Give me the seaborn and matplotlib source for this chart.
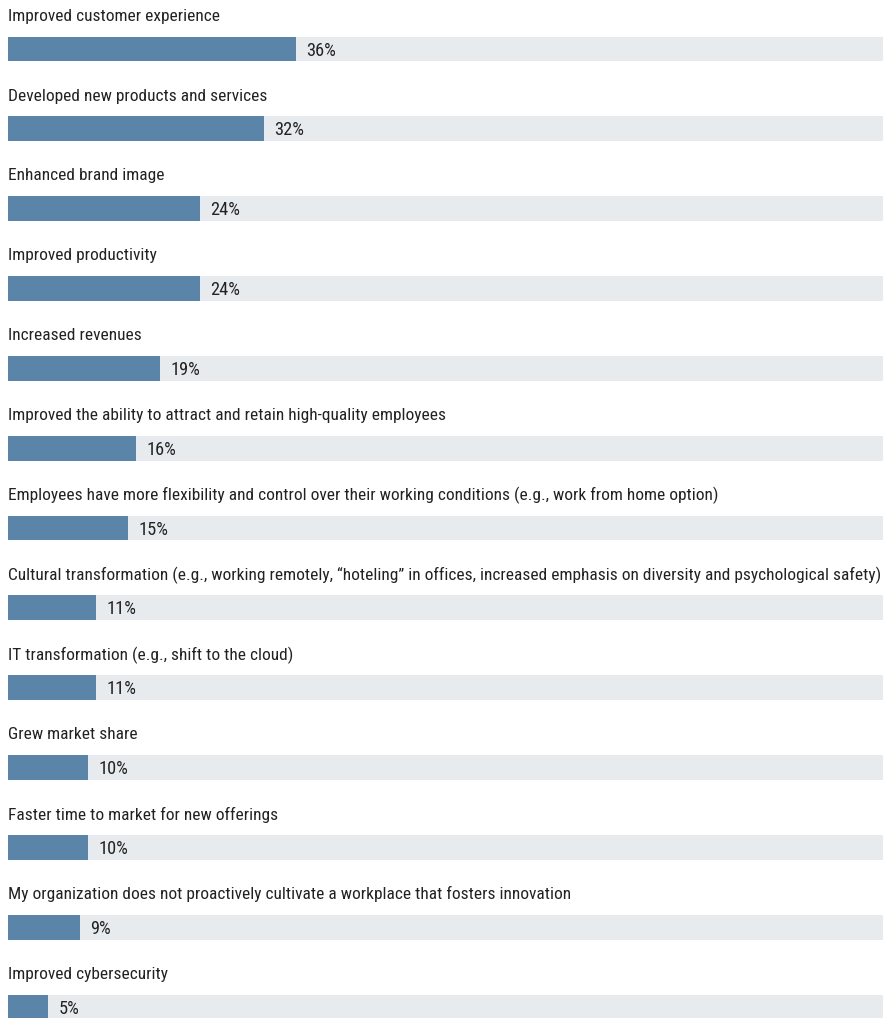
import matplotlib
matplotlib.use("Agg")
import matplotlib.pyplot as plt
from matplotlib import font_manager
import seaborn as sns
import pandas as pd

categories = [
    "Improved customer experience",
    "Developed new products and services",
    "Enhanced brand image",
    "Improved productivity",
    "Increased revenues",
    "Improved the ability to attract and retain high-quality employees",
    "Employees have more flexibility and control over their working conditions (e.g., work from home option)",
    "Cultural transformation (e.g., working remotely, \u201choteling\u201d in offices, increased emphasis on diversity and psychological safety)",
    "IT transformation (e.g., shift to the cloud)",
    "Grew market share",
    "Faster time to market for new offerings",
    "My organization does not proactively cultivate a workplace that fosters innovation",
    "Improved cybersecurity",
]
values = [36, 32, 24, 24, 19, 16, 15, 11, 11, 10, 10, 9, 5]
value_labels = ["36%", "32%", "24%", "24%", "19%", "16%", "15%", "11%", "11%", "10%", "10%", "9%", "5%"]
track_max = 109.4

sns.set_theme(style="white")
avail = {f.name for f in font_manager.fontManager.ttflist}
fam = None
for cand in ["Roboto Condensed", "Liberation Sans Narrow", "Open Sans Condensed", "Roboto", "DejaVu Sans"]:
    if cand in avail:
        fam = cand
        break
plt.rcParams["font.family"] = [fam, "DejaVu Sans"]

df = pd.DataFrame({"cat": categories, "val": values, "track": [track_max] * len(values)})

fig = plt.figure(figsize=(8.83, 10.18), dpi=100)
ax = fig.add_axes([8 / 883, 0, 875 / 883, 1])

sns.barplot(data=df, y="cat", x="track", color="#e8ebee", width=0.31, ax=ax, orient="h",
            saturation=1, linewidth=0, edgecolor="none")
sns.barplot(data=df, y="cat", x="val", color="#5b84a9", width=0.31, ax=ax, orient="h",
            saturation=1, linewidth=0, edgecolor="none")

txt_color = "#222222"
for i, (c, v, lab) in enumerate(zip(categories, values, value_labels)):
    ax.text(-0.05, i - 0.41, c, ha="left", va="center", fontsize=12.55, color=txt_color)
    ax.text(v + 1.3, i + 0.02, lab, ha="left", va="center", fontsize=13.2, color=txt_color)

ax.set_xlim(0, track_max)
ax.set_ylim(12 + 11 / 79.83, -49 / 79.83)
ax.set_xlabel("")
ax.set_ylabel("")
ax.set_xticks([])
ax.set_yticks([])
for s in ax.spines.values():
    s.set_visible(False)
ax.patch.set_alpha(0)
fig.patch.set_facecolor("white")
fig.savefig("out.png", dpi=100)
